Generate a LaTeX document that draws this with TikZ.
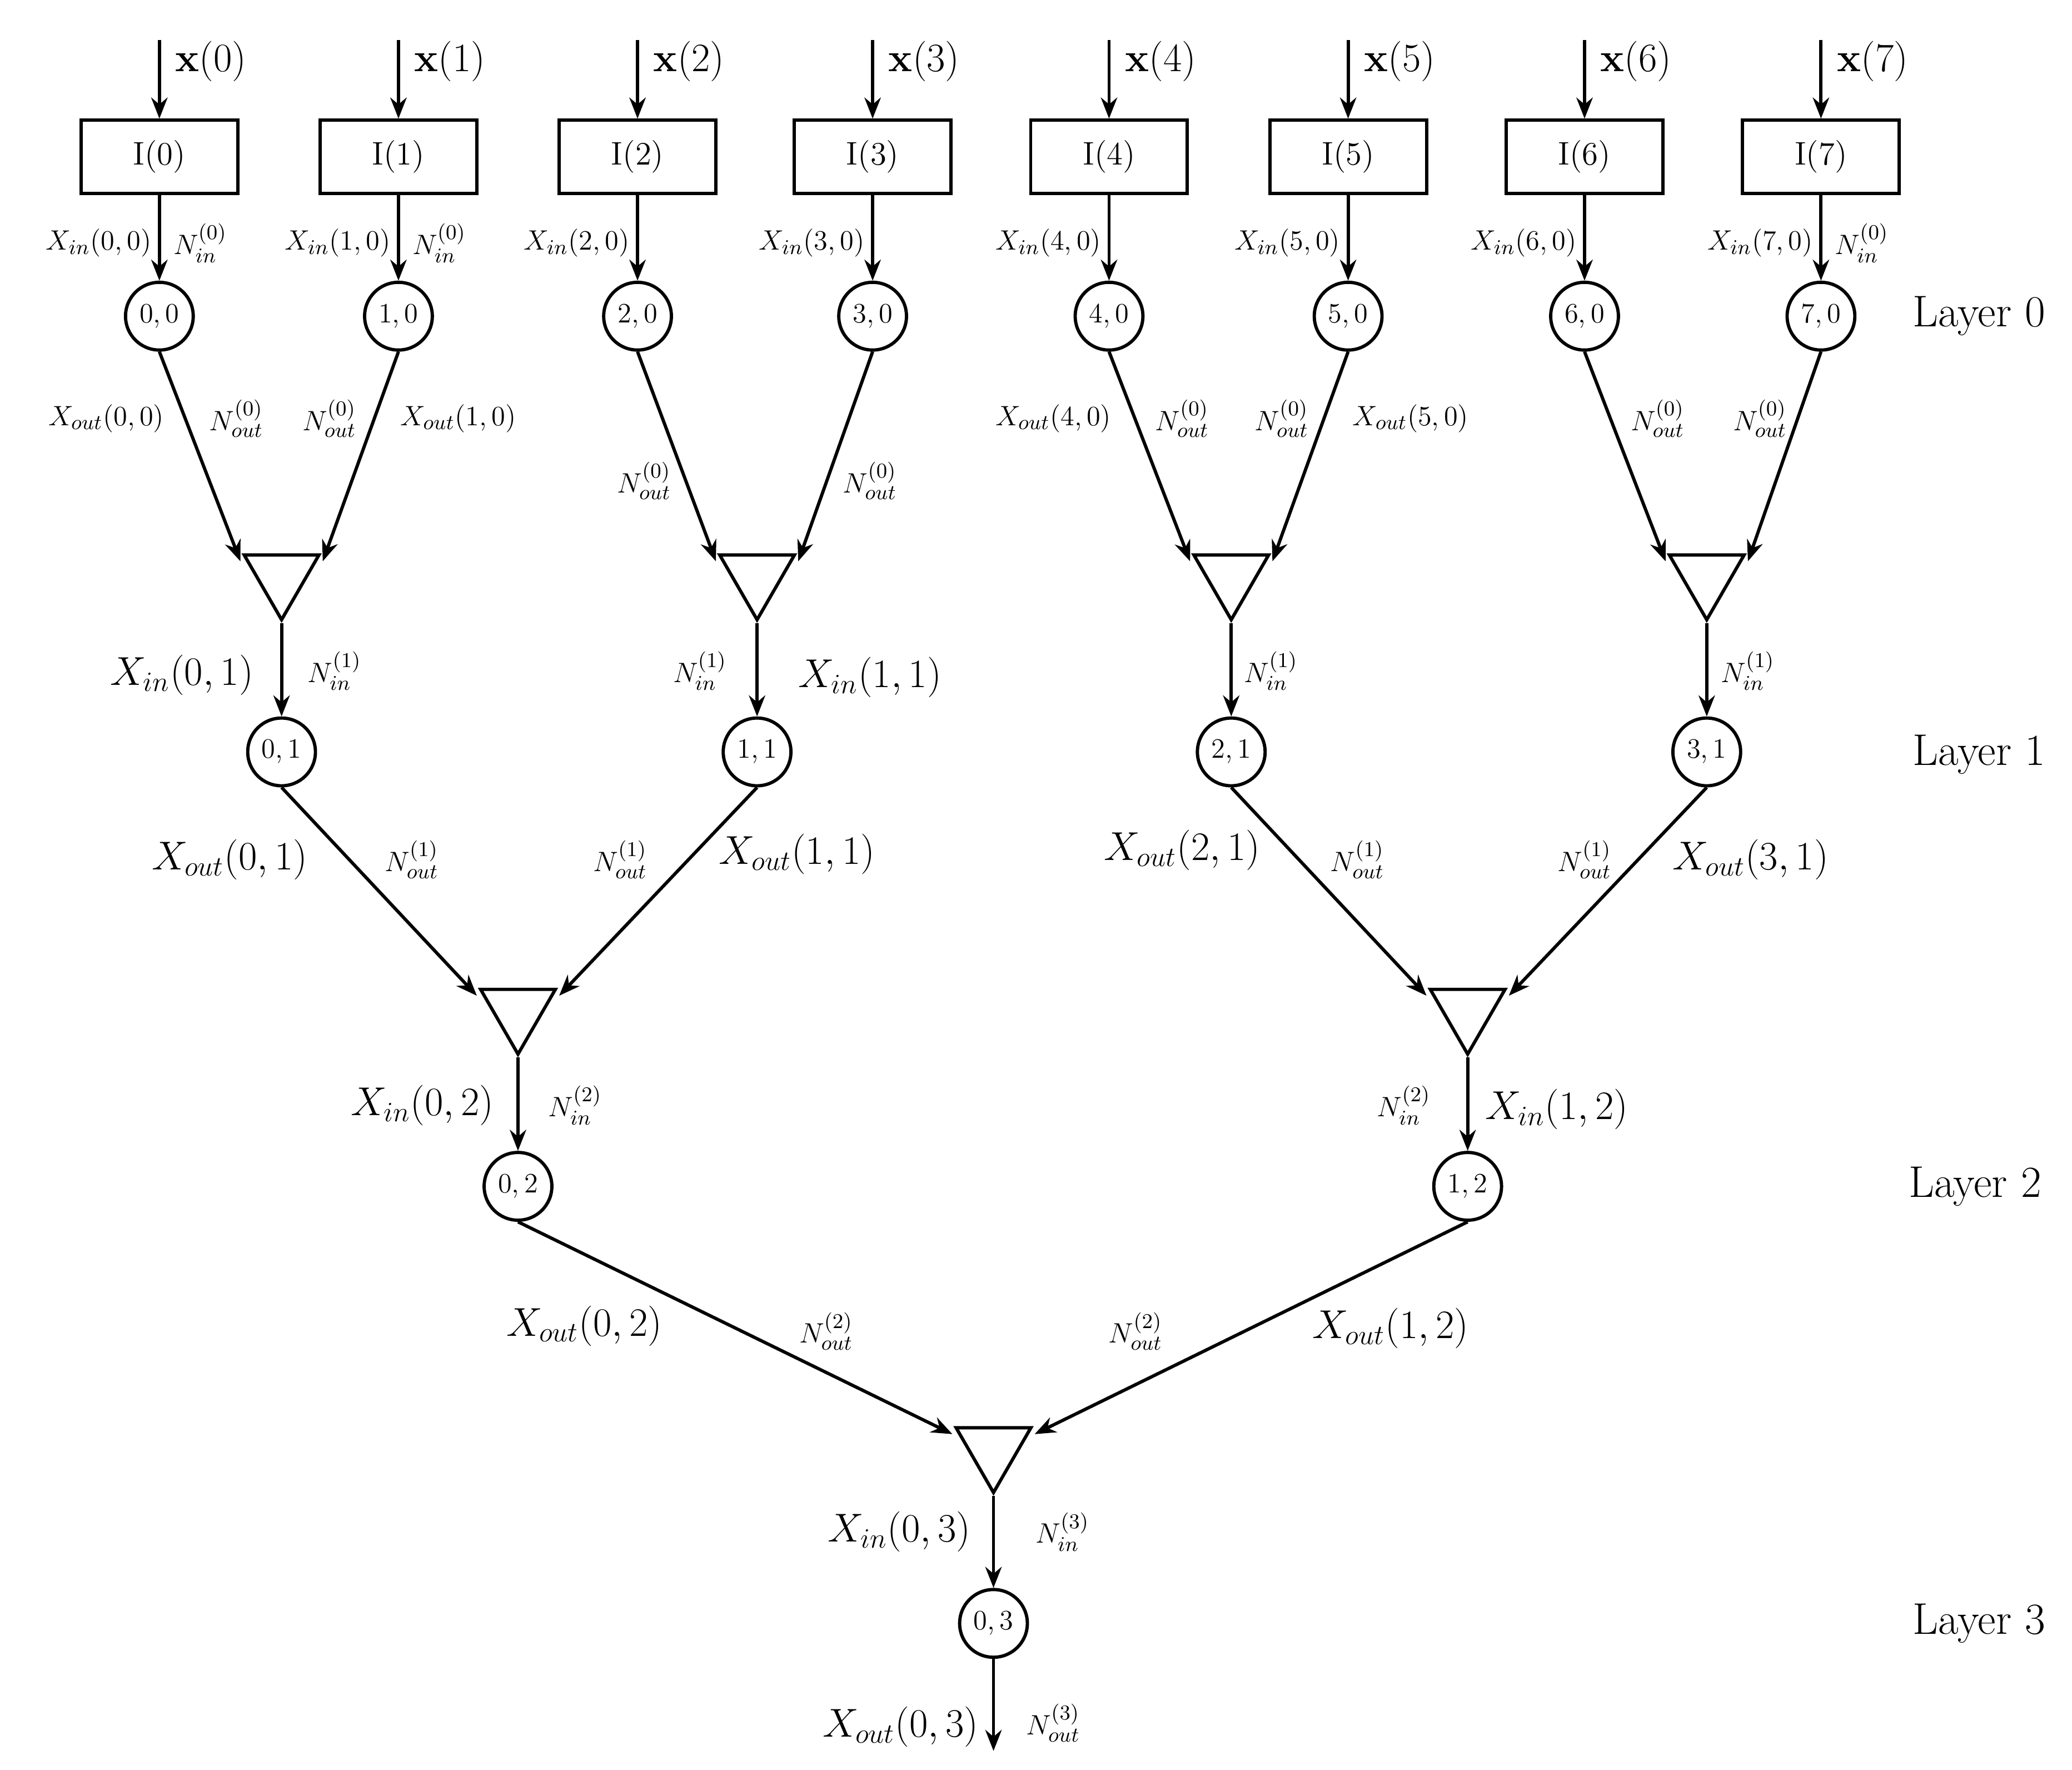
\documentclass[tikz,border=0pt]{standalone}
\usetikzlibrary{shapes.geometric,arrows.meta}
\begin{document}
\begin{tikzpicture}[x=0.02cm,y=-0.02cm,line width=1.4pt,
  arr/.style={-{Stealth[length=9pt,width=7pt]}},
  box/.style={draw,minimum width=2.36cm,minimum height=1.1cm,font=\fontsize{14}{16}\selectfont},
  cir/.style={draw,circle,minimum size=1.02cm,inner sep=0pt,font=\fontsize{12}{14}\selectfont},
  tri/.style={draw,regular polygon,regular polygon sides=3,shape border rotate=180,minimum size=1.3cm,inner sep=0pt},
  sm/.style={font=\fontsize{13}{15}\selectfont},
  bg/.style={font=\fontsize{17}{20}\selectfont},
  lay/.style={font=\fontsize{19}{22}\selectfont}]
\useasboundingbox (0,0) rectangle (1560,1332);
% layer 0
\foreach \i/\x in {0/120,1/300,2/480,3/657,4/835,5/1015,6/1193,7/1371}{
  \coordinate (t\i) at (\x,30);
  \node[box] (I\i) at (\x,118) {I(\i)};
  \node[cir] (c\i0) at (\x,238) {$\i,0$};
  \draw[arr] (t\i) -- (I\i.north);
  \node[bg,anchor=west] at (\x+5,46) {$\mathbf{x}(\i)$};
  \draw[arr] (I\i.south) -- (c\i0.north);
  \node[sm,anchor=east] at (\x+1,183) {$X_{in}(\i,0)$};
}
\foreach \i in {0,1,7}{\path (c\i0) ++(0,-55) node[sm,anchor=west,xshift=2pt] {$N_{in}^{(0)}$};}
% triangles layer 0
\foreach \j/\x in {0/212,1/570,2/927,3/1285}{\node[tri] (T\j0) at (\x,434) {};}
\foreach \j in {0,1,2,3}{
  \pgfmathtruncatemacro{\a}{2*\j}\pgfmathtruncatemacro{\b}{2*\j+1}
  \draw[arr] (c\a0.south) -- ([xshift=-0.62cm,yshift=-0.12cm]T\j0.north);
  \draw[arr] (c\b0.south) -- ([xshift=0.62cm,yshift=-0.12cm]T\j0.north);
}
\node[sm] at (80,315) {$X_{out}(0,0)$}; \node[sm] at (178,315) {$N_{out}^{(0)}$};
\node[sm] at (248,315) {$N_{out}^{(0)}$}; \node[sm] at (345,315) {$X_{out}(1,0)$};
\node[sm] at (485,362) {$N_{out}^{(0)}$}; \node[sm] at (655,362) {$N_{out}^{(0)}$};
\node[sm] at (793,315) {$X_{out}(4,0)$}; \node[sm] at (890,315) {$N_{out}^{(0)}$};
\node[sm] at (965,315) {$N_{out}^{(0)}$}; \node[sm] at (1062,315) {$X_{out}(5,0)$};
\node[sm] at (1248,315) {$N_{out}^{(0)}$}; \node[sm] at (1325,315) {$N_{out}^{(0)}$};
% layer 1
\foreach \j/\x in {0/212,1/570,2/927,3/1285}{
  \node[cir] (c\j1) at (\x,566) {$\j,1$};
  \draw[arr] (T\j0.south) -- (c\j1.north);}
\node[bg] at (137,508) {$X_{in}(0,1)$}; \node[sm] at (252,505) {$N_{in}^{(1)}$};
\node[sm] at (527,505) {$N_{in}^{(1)}$}; \node[bg] at (655,510) {$X_{in}(1,1)$};
\node[sm] at (957,505) {$N_{in}^{(1)}$}; \node[sm] at (1316,505) {$N_{in}^{(1)}$};
\foreach \j/\x in {0/390,1/1105}{\node[tri] (T\j1) at (\x,761) {};}
\draw[arr] (c01.south) -- ([xshift=-0.62cm,yshift=-0.12cm]T01.north);
\draw[arr] (c11.south) -- ([xshift=0.62cm,yshift=-0.12cm]T01.north);
\draw[arr] (c21.south) -- ([xshift=-0.62cm,yshift=-0.12cm]T11.north);
\draw[arr] (c31.south) -- ([xshift=0.62cm,yshift=-0.12cm]T11.north);
\node[bg] at (173,647) {$X_{out}(0,1)$}; \node[sm] at (310,647) {$N_{out}^{(1)}$};
\node[sm] at (467,647) {$N_{out}^{(1)}$}; \node[bg] at (600,643) {$X_{out}(1,1)$};
\node[bg] at (890,640) {$X_{out}(2,1)$}; \node[sm] at (1022,647) {$N_{out}^{(1)}$};
\node[sm] at (1193,647) {$N_{out}^{(1)}$}; \node[bg] at (1318,647) {$X_{out}(3,1)$};
% layer 2
\foreach \j/\x in {0/390,1/1105}{
  \node[cir] (c\j2) at (\x,893) {$\j,2$};
  \draw[arr] (T\j1.south) -- (c\j2.north);}
\node[bg] at (318,832) {$X_{in}(0,2)$}; \node[sm] at (433,832) {$N_{in}^{(2)}$};
\node[sm] at (1057,832) {$N_{in}^{(2)}$}; \node[bg] at (1172,835) {$X_{in}(1,2)$};
\node[tri] (T02) at (748,1091) {};
\draw[arr] (c02.south) -- ([xshift=-0.62cm,yshift=-0.12cm]T02.north);
\draw[arr] (c12.south) -- ([xshift=0.62cm,yshift=-0.12cm]T02.north);
\node[bg] at (440,998) {$X_{out}(0,2)$}; \node[sm] at (622,1002) {$N_{out}^{(2)}$};
\node[sm] at (855,1002) {$N_{out}^{(2)}$}; \node[bg] at (1047,1000) {$X_{out}(1,2)$};
% layer 3
\node[cir] (c03) at (748,1222) {$0,3$};
\draw[arr] (T02.south) -- (c03.north);
\coordinate (out) at (748,1318);
\draw[arr] (c03.south) -- (out);
\node[bg] at (677,1153) {$X_{in}(0,3)$}; \node[sm] at (800,1153) {$N_{in}^{(3)}$};
\node[bg] at (678,1300) {$X_{out}(0,3)$}; \node[sm] at (793,1297) {$N_{out}^{(3)}$};
% layer labels
\node[lay] at (1490,238) {Layer 0};
\node[lay] at (1490,568) {Layer 1};
\node[lay] at (1487,893) {Layer 2};
\node[lay] at (1490,1222) {Layer 3};
\end{tikzpicture}
\end{document}
